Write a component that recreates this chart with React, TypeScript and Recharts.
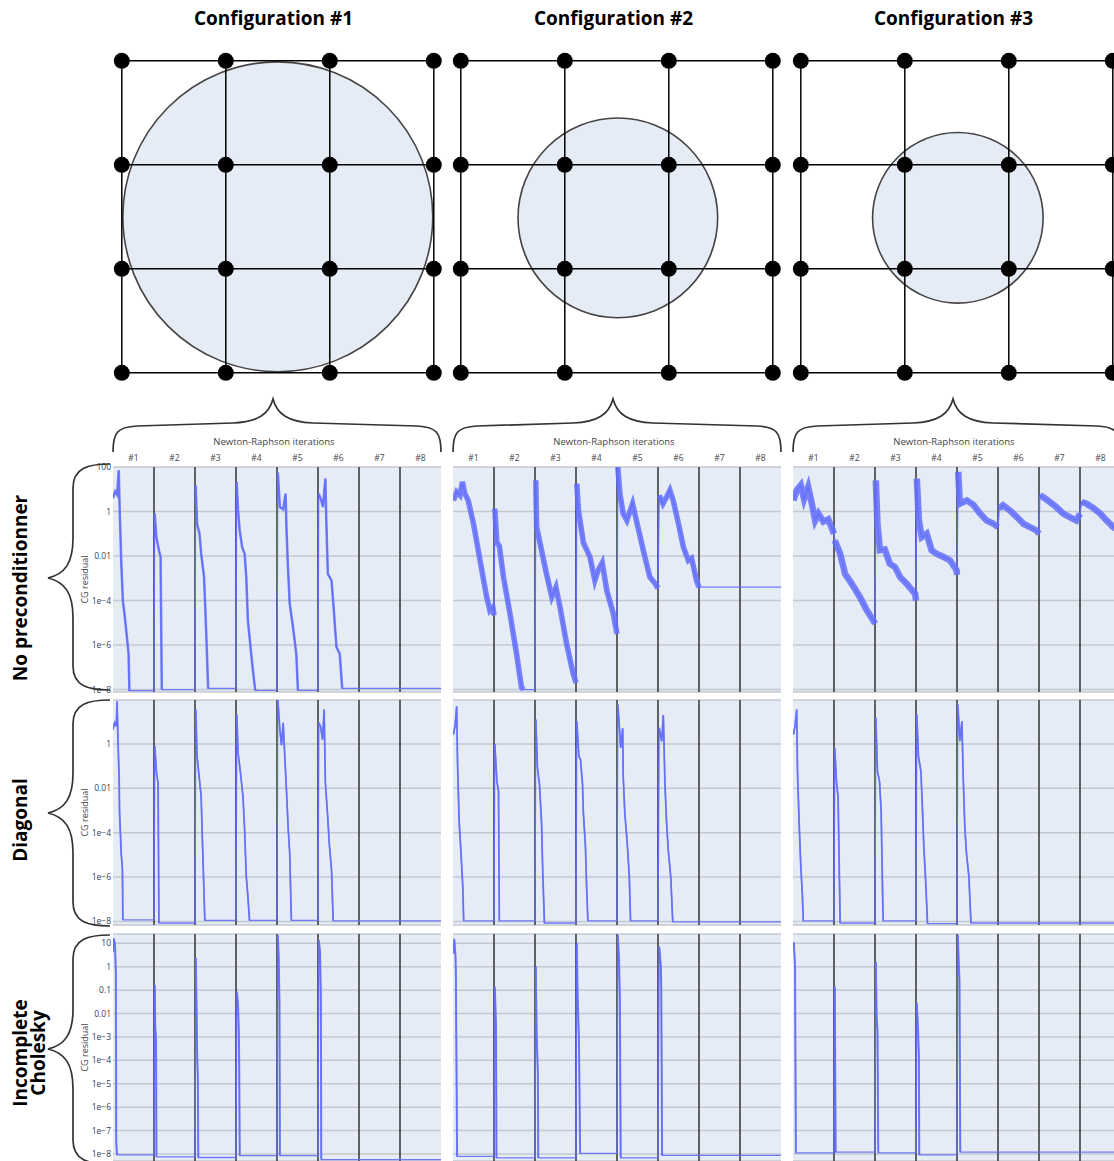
import React from "react";
import {CartesianGrid, Line, LineChart, ReferenceLine, Scatter, ScatterChart, XAxis, YAxis} from "recharts";

const FONT = '"Open Sans", "Noto Sans", sans-serif';

// ---- data ----
const configTitles = ["Configuration #1", "Configuration #2", "Configuration #3"];
const gridCoords = [0, 1, 2, 3];
const circleCenters = [[1.5, 1.5], [1.51, 1.51], [1.51, 1.51]];
const circleRadii = [1.49, 0.96, 0.82];

const nrLabels = ["#1", "#2", "#3", "#4", "#5", "#6", "#7", "#8"];
const nrTicks = [0.5, 1.5, 2.5, 3.5, 4.5, 5.5, 6.5, 7.5];
const nrBoundaries = [1, 2, 3, 4, 5, 6, 7];

const rowLabels = [["No preconditionner"], ["Diagonal"], ["Incomplete", "Cholesky"]];
const ticksNoPrec = [100, 1, 0.01, 1e-4, 1e-6, 1e-8];
const ticksDiag = [1, 0.01, 1e-4, 1e-6, 1e-8];
const ticksChol = [10, 1, 0.1, 0.01, 1e-3, 1e-4, 1e-5, 1e-6, 1e-7, 1e-8];

// [position in Newton-Raphson iterations, log10 of CG residual]
type Pt = [number, number];

const noPrec1: Pt[] = [
  [0, 0.6], [0.05, 0.9], [0.1, 0.75], [0.14, 1.85], [0.16, 0.3], [0.2, -2.2], [0.24, -4.0], [0.28, -4.6], [0.32, -5.3], [0.38, -6.4], [0.4, -8.05], [1.0, -8.05],
  [1.016, -0.09], [1.057, -1.15], [1.12, -1.74], [1.16, -2.04], [1.19, -8.0], [2.0, -8.0],
  [2.016, 1.18], [2.05, -0.55], [2.11, -1.0], [2.15, -1.9], [2.22, -2.94], [2.25, -4.29], [2.29, -6.3], [2.32, -7.95], [3.0, -7.95],
  [3.016, 1.33], [3.05, 0.05], [3.09, -0.85], [3.15, -1.6], [3.21, -1.9], [3.25, -2.94], [3.29, -4.9], [3.37, -6.39], [3.41, -7.1], [3.47, -8.04], [4.0, -8.04],
  [4.02, 1.75], [4.07, 0.2], [4.15, 0.1], [4.21, 0.8], [4.23, -0.7], [4.27, -2.64], [4.31, -4.14], [4.39, -5.19], [4.47, -6.39], [4.51, -8.04], [5.0, -8.04],
  [5.016, 0.8], [5.08, 0.5], [5.12, 0.2], [5.18, 1.48], [5.2, -0.25], [5.24, -2.8], [5.33, -3.1], [5.38, -4.29], [5.45, -6.09], [5.53, -6.39], [5.59, -7.95], [8.0, -7.95],
];
const noPrec2: Pt[] = [
  [0.01, 0.5], [0.09, 0.88], [0.17, 0.73], [0.23, 1.33], [0.29, 0.8], [0.37, 0.5], [0.5, -0.55], [0.66, -2.2], [0.82, -3.84], [0.9, -4.44], [0.97, -4.3], [1.0, -4.67],
  [1.02, 0.13], [1.07, -1.4], [1.13, -1.55], [1.23, -2.94], [1.39, -4.6], [1.55, -6.39], [1.67, -7.9], [1.72, -8.0], [2.0, -8.0],
  [2.02, 1.4], [2.04, -0.7], [2.12, -1.4], [2.28, -2.8], [2.41, -3.84], [2.51, -3.4], [2.61, -4.3], [2.77, -5.94], [2.93, -7.28], [3.0, -7.7],
  [3.02, 1.25], [3.06, 0.05], [3.18, -1.4], [3.34, -2.04], [3.46, -3.1], [3.54, -2.64], [3.64, -2.3], [3.75, -3.54], [3.91, -4.6], [4.0, -5.5],
  [4.02, 2.0], [4.07, 0.8], [4.15, -0.09], [4.24, -0.4], [4.38, 0.35], [4.48, -0.45], [4.64, -1.74], [4.8, -2.94], [4.93, -3.24], [5.0, -3.45],
  [5.03, 0.73], [5.12, 0.35], [5.21, 0.65], [5.29, 0.95], [5.37, 0.5], [5.5, -0.55], [5.62, -1.6], [5.74, -2.2], [5.82, -2.1], [5.94, -3.1], [6.0, -3.4], [8.0, -3.4],
];
const noPrec3: Pt[] = [
  [0.01, 0.5], [0.09, 0.95], [0.19, 1.18], [0.27, 0.56], [0.37, 1.1], [0.46, 0.35], [0.54, -0.4], [0.62, -0.1], [0.74, -0.45], [0.86, -0.35], [1.0, -1.0],
  [1.02, -1.3], [1.15, -1.9], [1.27, -2.8], [1.43, -3.24], [1.63, -3.84], [1.8, -4.44], [1.96, -4.9], [2.0, -5.04],
  [2.02, 1.4], [2.06, -0.55], [2.12, -1.74], [2.24, -1.7], [2.36, -2.34], [2.49, -2.5], [2.61, -2.94], [2.77, -3.24], [2.98, -3.7], [3.0, -4.0],
  [3.02, 1.48], [3.07, -0.4], [3.14, -1.15], [3.26, -1.0], [3.38, -1.74], [3.5, -1.9], [3.67, -2.04], [3.83, -2.2], [3.99, -2.64], [4.0, -2.85],
  [4.03, 1.78], [4.07, 0.35], [4.24, 0.5], [4.4, 0.3], [4.56, -0.09], [4.72, -0.4], [4.89, -0.55], [5.0, -0.7],
  [5.03, 0.13], [5.12, 0.28], [5.29, 0.05], [5.46, -0.25], [5.62, -0.55], [5.78, -0.7], [5.94, -0.85], [6.0, -1.0],
  [6.02, 0.73], [6.1, 0.65], [6.26, 0.43], [6.42, 0.2], [6.59, -0.09], [6.75, -0.25], [6.91, -0.4], [7.0, -0.1],
  [7.04, 0.43], [7.16, 0.35], [7.33, 0.15], [7.49, -0.09], [7.65, -0.4], [7.81, -0.7], [8.0, -0.9],
];
const diag1: Pt[] = [
  [0, 0.65], [0.04, 0.95], [0.08, 0.8], [0.1, 1.92], [0.12, 0.28], [0.15, -1.61], [0.16, -3.1], [0.2, -4.92], [0.23, -5.67], [0.24, -7.93], [1.0, -7.93],
  [1.02, -0.1], [1.06, -1.31], [1.1, -1.76], [1.12, -8.07], [2.0, -8.07],
  [2.02, 1.55], [2.05, -0.56], [2.1, -1.46], [2.15, -2.37], [2.18, -4.32], [2.21, -6.13], [2.24, -7.95], [3.0, -7.95],
  [3.02, 1.32], [3.05, -0.41], [3.11, -1.31], [3.17, -2.37], [3.21, -3.87], [3.25, -5.97], [3.29, -6.88], [3.33, -7.95], [4.0, -7.95],
  [4.02, 2.0], [4.07, 0.65], [4.11, -0.06], [4.15, 0.95], [4.19, -0.56], [4.23, -2.06], [4.27, -3.72], [4.31, -4.92], [4.35, -7.95], [5.0, -7.95],
  [5.02, 0.95], [5.06, 0.8], [5.11, 0.19], [5.15, 1.55], [5.18, -1.76], [5.23, -3.1], [5.28, -4.62], [5.33, -5.67], [5.37, -7.97], [8.0, -7.97],
];
const diag2: Pt[] = [
  [0.01, 0.42], [0.05, 0.8], [0.09, 1.7], [0.11, -0.79], [0.15, -3.49], [0.2, -5.07], [0.24, -6.5], [0.26, -7.97], [1.0, -7.97],
  [1.02, 0.0], [1.07, -1.69], [1.11, -2.14], [1.13, -7.97], [2.0, -7.97],
  [2.02, 1.1], [2.06, -1.08], [2.11, -1.84], [2.16, -3.57], [2.19, -5.83], [2.23, -8.07], [3.0, -8.07],
  [3.02, 1.02], [3.07, -0.56], [3.11, -0.71], [3.16, -1.84], [3.18, -3.12], [3.23, -4.6], [3.26, -6.5], [3.29, -7.97], [4.0, -7.97],
  [4.02, 1.77], [4.06, 0.72], [4.09, -0.18], [4.14, 0.7], [4.15, -1.39], [4.19, -3.12], [4.25, -4.47], [4.3, -5.98], [4.33, -7.97], [5.0, -7.97],
  [5.03, 0.72], [5.09, 0.12], [5.13, 1.3], [5.17, -1.84], [5.21, -3.57], [5.25, -4.77], [5.31, -5.98], [5.36, -8.02], [8.0, -8.02],
];
const diag3: Pt[] = [
  [0.01, 0.42], [0.05, 0.8], [0.09, 1.55], [0.11, -1.24], [0.15, -3.57], [0.19, -5.5], [0.23, -6.86], [0.25, -7.97], [1.0, -7.97],
  [1.02, -0.18], [1.06, -1.69], [1.1, -2.44], [1.15, -8.07], [2.0, -8.07],
  [2.02, 1.18], [2.06, -1.24], [2.11, -1.69], [2.15, -3.05], [2.19, -7.2], [2.2, -7.97], [3.0, -7.97],
  [3.02, 1.33], [3.06, -0.56], [3.12, -1.24], [3.16, -3.05], [3.19, -4.6], [3.23, -5.98], [3.26, -7.19], [3.28, -8.1], [4.0, -8.1],
  [4.02, 1.77], [4.07, 0.12], [4.12, 1.02], [4.15, -1.39], [4.19, -3.72], [4.23, -4.92], [4.29, -5.98], [4.34, -8.07], [8.0, -8.07],
];
const chol1: Pt[] = [
  [0, 0.64], [0.02, 1.21], [0.05, 0.92], [0.07, -0.35], [0.08, -7.5], [0.09, -7.85], [0.1, -8.04], [1.0, -8.04],
  [1.02, -0.78], [1.03, -2.49], [1.05, -3.2], [1.06, -8.12], [2.0, -8.12],
  [2.02, 0.36], [2.04, -1.92], [2.05, -3.49], [2.07, -4.9], [2.08, -8.15], [3.0, -8.15],
  [3.02, -1.06], [3.05, -1.63], [3.07, -2.92], [3.08, -4.49], [3.09, -8.07], [4.0, -8.07],
  [4.02, 1.35], [4.04, 0.5], [4.06, -1.49], [4.07, -8.07], [5.0, -8.07],
  [5.02, 1.14], [5.05, 0.64], [5.07, -1.49], [5.08, -8.24], [8.0, -8.24],
];
const chol2: Pt[] = [
  [0.01, 0.57], [0.03, 1.19], [0.06, 0.5], [0.07, -0.28], [0.1, -8.1], [1.0, -8.1],
  [1.02, -0.85], [1.05, -2.56], [1.06, -8.17], [2.0, -8.17],
  [2.02, 0.0], [2.04, -2.85], [2.07, -4.56], [2.08, -8.17], [3.0, -8.17],
  [3.02, 1.0], [3.04, -1.28], [3.07, -2.99], [3.08, -4.42], [3.1, -7.97], [4.0, -7.97],
  [4.02, 1.36], [4.05, 0.29], [4.07, -1.42], [4.09, -8.17], [5.0, -8.17],
  [5.03, 0.86], [5.07, 0.0], [5.08, -1.0], [5.1, -8.06], [8.0, -8.06],
];
const chol3: Pt[] = [
  [0.01, 0.77], [0.02, 1.04], [0.05, 0.0], [0.07, -7.95], [1.0, -7.95],
  [1.02, -0.85], [1.04, -7.92], [2.0, -7.92],
  [2.02, 0.21], [2.04, -2.13], [2.06, -2.7], [2.08, -7.95], [3.0, -7.95],
  [3.02, -1.56], [3.05, -2.7], [3.07, -3.84], [3.08, -8.04], [4.0, -8.04],
  [4.02, 1.36], [4.04, 0.29], [4.06, -0.56], [4.08, -7.92], [8.0, -7.92],
];

const panels: Pt[][][] = [
  [noPrec1, noPrec2, noPrec3],
  [diag1, diag2, diag3],
  [chol1, chol2, chol3],
];

// ---- layout ----
const plotLeft = [113, 453, 793];
const plotW = 328;
const plotTop = [466.7, 700, 934];
const plotH = [225, 225, 227];
const rowDomains = [[10 ** -8.11, 100], [10 ** -8.16, 10 ** 1.98], [10 ** -8.3, 10 ** 1.4]];
const rowTicks = [ticksNoPrec, ticksDiag, ticksChol];
const bandWidths = [[2.5, 5.5, 6.5], [1.8, 1.8, 1.8], [2, 2, 2]];
const Y_AXIS_W = 45;
const X_AXIS_H = 36;
const M = 8; // room for the end tick labels

const nodeLeft = [122, 461, 801];
const nodeTop = 61;
const UNIT = 104;
const PAD = 0.2;

const BLUE = "#636efa";
const TICK_COLOR = "#2a3f5f";

function fmtTick(v: number) {
  if (v >= 0.01) return String(v);
  return "1e\u2212" + Math.round(-Math.log10(v));
}

function segOf(x: number) {
  return Math.max(0, Math.ceil(x) - 1);
}

function ResidualPanel({row, col}: { row: number; col: number }) {
  const pts = panels[row][col];
  const data = pts.map(([x, e]) => ({x, r: 10 ** e}));
  // noisy (thick) part of each CG run, without the flat converged stretch
  const runs = nrLabels.map((_, k) =>
    data.filter((d, i) => segOf(d.x) === k && !(i > 0 && d.r === data[i - 1].r))
  );
  const yw = col === 0 ? Y_AXIS_W : 0;
  const xh = row === 0 ? X_AXIS_H : 0;
  return (
    <div style={{position: "absolute", left: plotLeft[col] - yw, top: plotTop[row] - xh - M}}>
      <LineChart width={yw + plotW} height={xh + plotH[row] + 2 * M} margin={{top: M, right: 0, bottom: M, left: 0}}>
        <CartesianGrid fill="#e5ecf6" fillOpacity={1} vertical={false} stroke="#c4c8cf" strokeWidth={1.5}/>
        <XAxis
          type="number"
          dataKey="x"
          domain={[0, 8]}
          ticks={nrTicks}
          orientation="top"
          hide={row !== 0}
          height={X_AXIS_H}
          axisLine={false}
          tickLine={false}
          tickSize={0}
          tickMargin={6}
          interval={0}
          allowDataOverflow
          tickFormatter={(v: number) => nrLabels[Math.floor(v)]}
          tick={{fontSize: 8.5, fill: "#444", fontFamily: FONT}}
        />
        <YAxis
          type="number"
          scale="log"
          domain={rowDomains[row]}
          ticks={rowTicks[row]}
          interval={0}
          allowDataOverflow
          hide={col !== 0}
          width={Y_AXIS_W}
          axisLine={false}
          tickLine={false}
          tickSize={0}
          tickMargin={2}
          tickFormatter={fmtTick}
          tick={{fontSize: 8.5, fill: TICK_COLOR, fontFamily: FONT}}
          label={{
            value: "CG residual",
            angle: -90,
            position: "insideLeft",
            offset: 17,
            style: {textAnchor: "middle", fontSize: 9, fill: "#444", fontFamily: FONT},
          }}
        />
        {nrBoundaries.map((b) => (
          <ReferenceLine key={b} x={b} stroke="#333" strokeOpacity={0.75} strokeWidth={2}/>
        ))}
        <Line data={data} dataKey="r" type="linear" stroke={BLUE} strokeWidth={1.3} strokeOpacity={0.9} dot={false}
              isAnimationActive={false}/>
        {runs.map((run, k) => (
          <Line key={k} data={run} dataKey="r" type="linear" stroke={BLUE} strokeWidth={bandWidths[row][col]}
                strokeOpacity={0.85} dot={false} isAnimationActive={false}/>
        ))}
      </LineChart>
    </div>
  );
}

function ConfigDiagram({c}: { c: number }) {
  const size = (3 + 2 * PAD) * UNIT;
  const nodes = gridCoords.flatMap((gx) => gridCoords.map((gy) => ({x: gx, y: gy})));
  const circle = [{x: circleCenters[c][0], y: circleCenters[c][1], rad: circleRadii[c]}];
  const rows = gridCoords.map((k) => [{x: 0, y: k}, {x: 3, y: k}]);
  const cols = gridCoords.map((k) => [{x: k, y: 0}, {x: k, y: 3}]);
  return (
    <div style={{position: "absolute", left: nodeLeft[c] - PAD * UNIT, top: nodeTop - PAD * UNIT}}>
      <ScatterChart width={size} height={size} margin={{top: 0, right: 0, bottom: 0, left: 0}}>
        <XAxis type="number" dataKey="x" domain={[-PAD, 3 + PAD]} hide/>
        <YAxis type="number" dataKey="y" domain={[-PAD, 3 + PAD]} hide reversed/>
        <Scatter
          data={circle}
          isAnimationActive={false}
          shape={(p: any) => (
            <circle cx={p.cx} cy={p.cy} r={p.payload.rad * UNIT} fill="#e5ecf6" stroke="#444" strokeWidth={1.6}/>
          )}
        />
        {[...rows, ...cols].map((seg, i) => (
          <Scatter key={"g" + i} data={seg} isAnimationActive={false} line={{stroke: "#000", strokeWidth: 1.5}}
                   shape={() => <g/>}/>
        ))}
        <Scatter
          data={nodes}
          isAnimationActive={false}
          shape={(p: any) => <circle cx={p.cx} cy={p.cy} r={8} fill="#000"/>}
        />
      </ScatterChart>
    </div>
  );
}

function hBrace(x0: number, x1: number, cx: number) {
  return `M ${x0} 452 C ${x0} 433, ${x0 + 4} 427, ${x0 + 24} 426 L ${cx - 40} 423 C ${cx - 15} 422, ${cx - 4} 414, ${cx} 399 ` +
    `C ${cx + 4} 414, ${cx + 15} 422, ${cx + 40} 423 L ${x1 - 24} 426 C ${x1 - 4} 427, ${x1} 433, ${x1} 452`;
}

function vBrace(y0: number, y1: number, cy: number) {
  return `M 110 ${y0} C 88 ${y0}, 73 ${y0 + 4}, 73 ${y0 + 24} L 73 ${cy - 40} C 73 ${cy - 15}, 65 ${cy - 4}, 48 ${cy} ` +
    `C 65 ${cy + 4}, 73 ${cy + 15}, 73 ${cy + 40} L 73 ${y1 - 24} C 73 ${y1 - 4}, 88 ${y1}, 110 ${y1}`;
}

export default function App() {
  const rowSpans = [[464, 690, 578], [700, 926, 813], [935, 1164, 1049]];
  const rowLabelY = [588, 820, 1053];
  return (
    <div style={{position: "fixed", left: 0, top: 0, width: 1114, height: 1161, overflow: "hidden", background: "#fff"}}>
      {[0, 1, 2].map((c) => <ConfigDiagram key={c} c={c}/>)}
      {[0, 1, 2].map((r) => [0, 1, 2].map((c) => <ResidualPanel key={r + "-" + c} row={r} col={c}/>))}
      <svg width={1114} height={1161} style={{position: "absolute", left: 0, top: 0, pointerEvents: "none"}}>
        {configTitles.map((t, c) => (
          <text key={t} x={plotLeft[c] + 160.5} y={18} textAnchor="middle" dominantBaseline="central"
                fontFamily={FONT} fontWeight={700} fontSize={19} fill="#000">{t}</text>
        ))}
        {plotLeft.map((x0, c) => (
          <g key={c}>
            <path d={hBrace(x0, x0 + plotW, x0 + 160)} fill="none" stroke="#333" strokeWidth={1.7}/>
            <text x={x0 + 161} y={441} textAnchor="middle" dominantBaseline="central" fontFamily={FONT}
                  fontSize={9.5} fill="#444">Newton-Raphson iterations</text>
          </g>
        ))}
        {rowSpans.map(([y0, y1, cy], r) => (
          <path key={r} d={vBrace(y0, y1, cy)} fill="none" stroke="#333" strokeWidth={1.7}/>
        ))}
        {rowLabels.map((lines, r) => (
          <text key={r} transform={`translate(${lines.length > 1 ? 29 : 20}, ${rowLabelY[r]}) rotate(-90)`}
                textAnchor="middle" fontFamily={FONT} fontWeight={700} fontSize={19} fill="#000">
            {lines.map((ln, i) => (
              <tspan key={ln} x={0} y={(i - (lines.length - 1) / 2) * 18} dominantBaseline="central">{ln}</tspan>
            ))}
          </text>
        ))}
      </svg>
    </div>
  );
}
